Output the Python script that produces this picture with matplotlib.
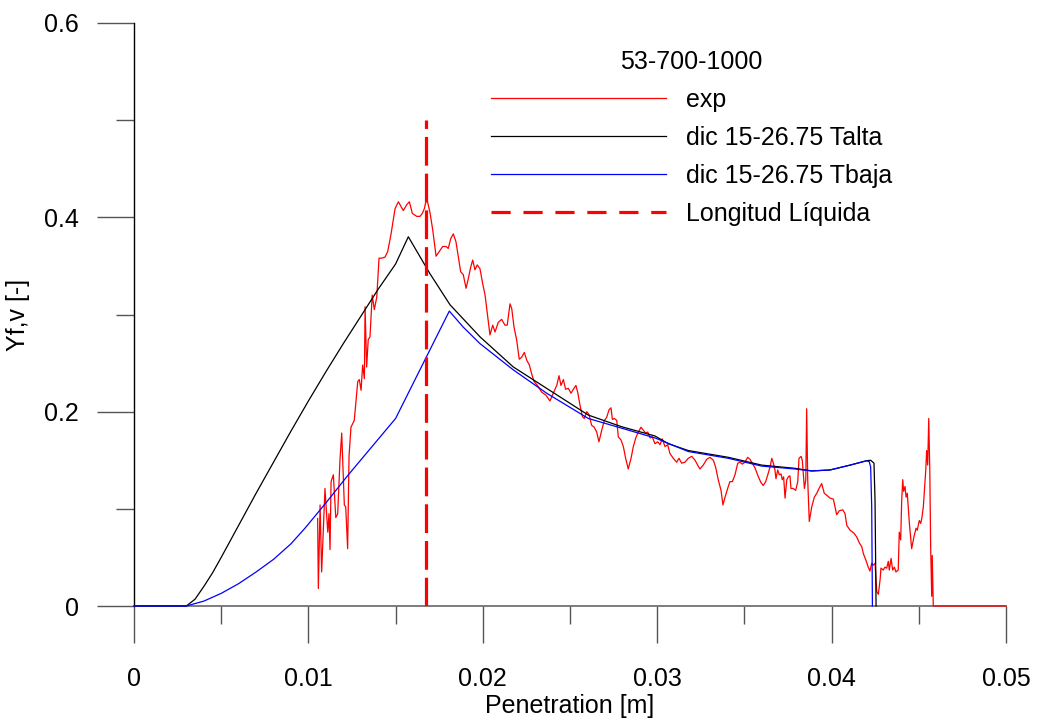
import numpy as np
import matplotlib
matplotlib.use('Agg')
import matplotlib.pyplot as plt
from matplotlib.lines import Line2D
from matplotlib.ticker import FuncFormatter

plt.rcParams['font.family'] = ['Liberation Sans', 'DejaVu Sans']

# ---------------- datos ----------------
titulo = '53-700-1000'
etiquetas = ['exp', 'dic 15-26.75 Talta', 'dic 15-26.75 Tbaja', 'Longitud Líquida']

# experimental (exp)
exp_x = [0.01053, 0.01057, 0.01067, 0.01076, 0.01095, 0.01111, 0.01118, 0.01124, 0.01130, 0.01143,
         0.01157, 0.01168, 0.01181, 0.01191, 0.01206, 0.01214, 0.01225, 0.01233, 0.01244, 0.01263,
         0.01283, 0.01292, 0.01302, 0.01311, 0.01321, 0.01325, 0.01334, 0.01343, 0.01353, 0.01366,
         0.01378, 0.01392, 0.01405, 0.01420, 0.01439, 0.01455, 0.01474, 0.01497, 0.01516, 0.01544,
         0.01564, 0.01579, 0.01596, 0.01621, 0.01640, 0.01653, 0.01665, 0.01678, 0.01697, 0.01713,
         0.01732, 0.01751, 0.01770, 0.01789, 0.01802, 0.01816, 0.01831, 0.01846, 0.01860, 0.01873,
         0.01888, 0.01904, 0.01917, 0.01931, 0.01942, 0.01955, 0.01968, 0.01984, 0.01999, 0.02013,
         0.02026, 0.02041, 0.02057, 0.02070, 0.02089, 0.02108, 0.02127, 0.02140, 0.02156, 0.02166,
         0.02179, 0.02194, 0.02209, 0.02223, 0.02238, 0.02252, 0.02267, 0.02280, 0.02294, 0.02313,
         0.02338, 0.02362, 0.02385, 0.02404, 0.02424, 0.02437, 0.02448, 0.02462, 0.02475, 0.02490,
         0.02506, 0.02519, 0.02534, 0.02544, 0.02557, 0.02571, 0.02582, 0.02596, 0.02609, 0.02624,
         0.02639, 0.02653, 0.02666, 0.02682, 0.02697, 0.02710, 0.02724, 0.02735, 0.02743, 0.02754,
         0.02768, 0.02777, 0.02792, 0.02806, 0.02819, 0.02834, 0.02850, 0.02863, 0.02877, 0.02892,
         0.02907, 0.02920, 0.02934, 0.02946, 0.02959, 0.02972, 0.02987, 0.03003, 0.03016, 0.03029,
         0.03045, 0.03060, 0.03073, 0.03092, 0.03112, 0.03125, 0.03140, 0.03159, 0.03178, 0.03198,
         0.03217, 0.03232, 0.03245, 0.03264, 0.03284, 0.03303, 0.03322, 0.03335, 0.03350, 0.03366,
         0.03377, 0.03389, 0.03404, 0.03417, 0.03431, 0.03446, 0.03462, 0.03475, 0.03488, 0.03503,
         0.03519, 0.03532, 0.03545, 0.03561, 0.03580, 0.03595, 0.03608, 0.03622, 0.03634, 0.03647,
         0.03657, 0.03666, 0.03675, 0.03681, 0.03691, 0.03700, 0.03710, 0.03717, 0.03725, 0.03733,
         0.03743, 0.03752, 0.03761, 0.03767, 0.03780, 0.03794, 0.03806, 0.03813, 0.03825, 0.03832,
         0.03844, 0.03852, 0.03857, 0.03863, 0.03872, 0.03886, 0.03901, 0.03915, 0.03928, 0.03943,
         0.03958, 0.03972, 0.03991, 0.04010, 0.04029, 0.04044, 0.04064, 0.04077, 0.04087, 0.04106,
         0.04128, 0.04144, 0.04159, 0.04173, 0.04182, 0.04197, 0.04210, 0.04220, 0.04230, 0.04239,
         0.04249, 0.04259, 0.04268, 0.04278, 0.04283, 0.04296, 0.04306, 0.04316, 0.04325, 0.04331,
         0.04341, 0.04350, 0.04360, 0.04369, 0.04382, 0.04388, 0.04396, 0.04402, 0.04408, 0.04413,
         0.04421, 0.04427, 0.04434, 0.04446, 0.04459, 0.04472, 0.04484, 0.04491, 0.04503, 0.04511,
         0.04517, 0.04526, 0.04532, 0.04540, 0.04545, 0.04551, 0.04557, 0.04563, 0.04568, 0.04574,
         0.04577, 0.04583, 0.05000]
exp_y = [0.090, 0.018, 0.104, 0.035, 0.121, 0.076, 0.095, 0.058, 0.128, 0.135,
         0.091, 0.095, 0.150, 0.178, 0.104, 0.102, 0.059, 0.154, 0.184, 0.191,
         0.231, 0.233, 0.222, 0.248, 0.234, 0.308, 0.246, 0.274, 0.277, 0.320,
         0.305, 0.318, 0.358, 0.358, 0.359, 0.365, 0.383, 0.409, 0.416, 0.407,
         0.413, 0.416, 0.404, 0.401, 0.401, 0.404, 0.409, 0.420, 0.405, 0.387,
         0.360, 0.365, 0.370, 0.370, 0.368, 0.378, 0.383, 0.375, 0.359, 0.344,
         0.341, 0.327, 0.337, 0.349, 0.356, 0.346, 0.351, 0.347, 0.332, 0.320,
         0.301, 0.279, 0.289, 0.282, 0.292, 0.295, 0.289, 0.289, 0.311, 0.306,
         0.287, 0.274, 0.254, 0.256, 0.261, 0.253, 0.248, 0.239, 0.231, 0.227,
         0.220, 0.217, 0.211, 0.219, 0.227, 0.237, 0.227, 0.233, 0.223, 0.224,
         0.219, 0.223, 0.227, 0.220, 0.207, 0.195, 0.193, 0.200, 0.197, 0.186,
         0.184, 0.179, 0.169, 0.181, 0.191, 0.194, 0.202, 0.204, 0.192, 0.193,
         0.191, 0.174, 0.171, 0.164, 0.152, 0.141, 0.152, 0.164, 0.173, 0.179,
         0.184, 0.181, 0.178, 0.179, 0.173, 0.174, 0.167, 0.169, 0.166, 0.172,
         0.164, 0.166, 0.157, 0.152, 0.148, 0.152, 0.147, 0.148, 0.152, 0.154,
         0.150, 0.145, 0.141, 0.145, 0.151, 0.153, 0.150, 0.143, 0.130, 0.119,
         0.104, 0.112, 0.121, 0.128, 0.128, 0.135, 0.147, 0.148, 0.146, 0.148,
         0.153, 0.151, 0.147, 0.142, 0.133, 0.127, 0.124, 0.128, 0.135, 0.143,
         0.152, 0.147, 0.140, 0.131, 0.140, 0.135, 0.136, 0.130, 0.133, 0.111,
         0.130, 0.133, 0.134, 0.121, 0.121, 0.119, 0.128, 0.152, 0.154, 0.150,
         0.121, 0.130, 0.203, 0.130, 0.087, 0.102, 0.112, 0.116, 0.121, 0.126,
         0.116, 0.114, 0.111, 0.110, 0.094, 0.098, 0.099, 0.095, 0.083, 0.078,
         0.075, 0.071, 0.065, 0.061, 0.054, 0.047, 0.040, 0.036, 0.044, 0.042,
         0.044, 0.015, 0.012, 0.027, 0.039, 0.037, 0.040, 0.039, 0.046, 0.037,
         0.049, 0.037, 0.040, 0.035, 0.037, 0.076, 0.068, 0.109, 0.130, 0.118,
         0.123, 0.112, 0.116, 0.085, 0.059, 0.071, 0.080, 0.078, 0.088, 0.085,
         0.090, 0.102, 0.119, 0.140, 0.160, 0.145, 0.193, 0.140, 0.061, 0.010,
         0.052, 0.000, 0.000]

# modelo Talta
talta_x = [0, 0.003, 0.0035, 0.004, 0.0045, 0.005, 0.006, 0.007, 0.008, 0.009,
           0.010, 0.011, 0.012, 0.013, 0.014, 0.015, 0.01573, 0.01697, 0.01812, 0.01984,
           0.02175, 0.02366, 0.02605, 0.02796, 0.02987, 0.03064, 0.03178, 0.03408, 0.03599, 0.03790,
           0.03886, 0.03991, 0.04106, 0.04201, 0.04224, 0.04243, 0.04249, 0.04255]
talta_y = [0, 0, 0.007, 0.020, 0.034, 0.050, 0.083, 0.116, 0.148, 0.180,
           0.211, 0.241, 0.270, 0.298, 0.326, 0.352, 0.380, 0.342, 0.310, 0.277,
           0.246, 0.224, 0.1965, 0.1845, 0.175, 0.167, 0.160, 0.153, 0.145, 0.1417,
           0.139, 0.140, 0.145, 0.1495, 0.150, 0.147, 0.109, 0.0]

# modelo Tbaja
tbaja_x = [0, 0.003, 0.004, 0.005, 0.006, 0.007, 0.008, 0.009, 0.0098, 0.011,
           0.01229, 0.015, 0.01808, 0.01888, 0.01984, 0.02175, 0.02366, 0.02605, 0.02796, 0.02987,
           0.03178, 0.03408, 0.03599, 0.03790, 0.03886, 0.03991, 0.04106, 0.04201, 0.04216, 0.04224,
           0.04230, 0.04234]
tbaja_y = [0, 0, 0.005, 0.013, 0.023, 0.035, 0.048, 0.064, 0.080, 0.106,
           0.135, 0.193, 0.3035, 0.287, 0.270, 0.243, 0.219, 0.193, 0.183, 0.173,
           0.159, 0.152, 0.144, 0.141, 0.139, 0.140, 0.145, 0.1495, 0.1485, 0.143,
           0.102, 0.0]

# longitud liquida
lliq_x = 0.01675
lliq_top = 0.5

# ---------------- figura ----------------
fig = plt.figure(figsize=(10.38, 7.2), dpi=100)
ax = fig.add_axes([134/1038., 114/720., 872/1038., 583/720.])

ax.plot(exp_x, exp_y, color='red', lw=0.9, zorder=3, clip_on=False)
ax.plot(talta_x, talta_y, color='black', lw=0.9, zorder=3, clip_on=False)
ax.plot(tbaja_x, tbaja_y, color='blue', lw=0.9, zorder=3, clip_on=False)
ax.plot([lliq_x, lliq_x], [0, lliq_top], color='red', lw=2.3, dashes=(9, 2.5), zorder=3)

ax.set_xlim(0, 0.05)
ax.set_ylim(0, 0.6)

ax.set_xticks(np.arange(0, 0.0501, 0.01))
ax.set_xticks(np.arange(0.005, 0.05, 0.01), minor=True)
ax.set_yticks([0, 0.2, 0.4, 0.6])
ax.set_yticks([0.1, 0.3, 0.5], minor=True)
fmt = FuncFormatter(lambda v, p: '%g' % round(v, 4))
ax.xaxis.set_major_formatter(fmt)
ax.yaxis.set_major_formatter(fmt)

ax.tick_params(which='major', direction='out', length=26.6, width=1.0, color='#555555', labelsize=18)
ax.tick_params(which='minor', direction='out', length=13, width=1.0, color='#555555')
ax.tick_params(axis='x', which='major', pad=17)
ax.tick_params(axis='y', which='major', pad=13)

for s in ['top', 'right']:
    ax.spines[s].set_visible(False)
ax.spines['left'].set_color('black')
ax.spines['bottom'].set_color('#666666')
ax.spines['left'].set_linewidth(1.0)
ax.spines['bottom'].set_linewidth(1.2)

fig.text(570/1038., 1 - 706/720., 'Penetration [m]', fontsize=18, ha='center', va='center')
fig.text(18/1038., 1 - 315/720., 'Yf,v [-]', fontsize=18, ha='center', va='center', rotation=90)

# leyenda sin marco
handles = [Line2D([], [], color='red', lw=0.9),
           Line2D([], [], color='black', lw=0.9),
           Line2D([], [], color='blue', lw=0.9),
           Line2D([], [], color='red', lw=2.3, dashes=(6, 4))]
leg = fig.legend(handles, etiquetas, title=titulo, loc='upper left',
                 bbox_to_anchor=(491/1038., 1 - 50/720.), frameon=False,
                 borderpad=0, borderaxespad=0, handlelength=7.0, handletextpad=0.8,
                 labelspacing=0.56, fontsize=18, title_fontsize=18)

fig.savefig('out.png', dpi=100)
